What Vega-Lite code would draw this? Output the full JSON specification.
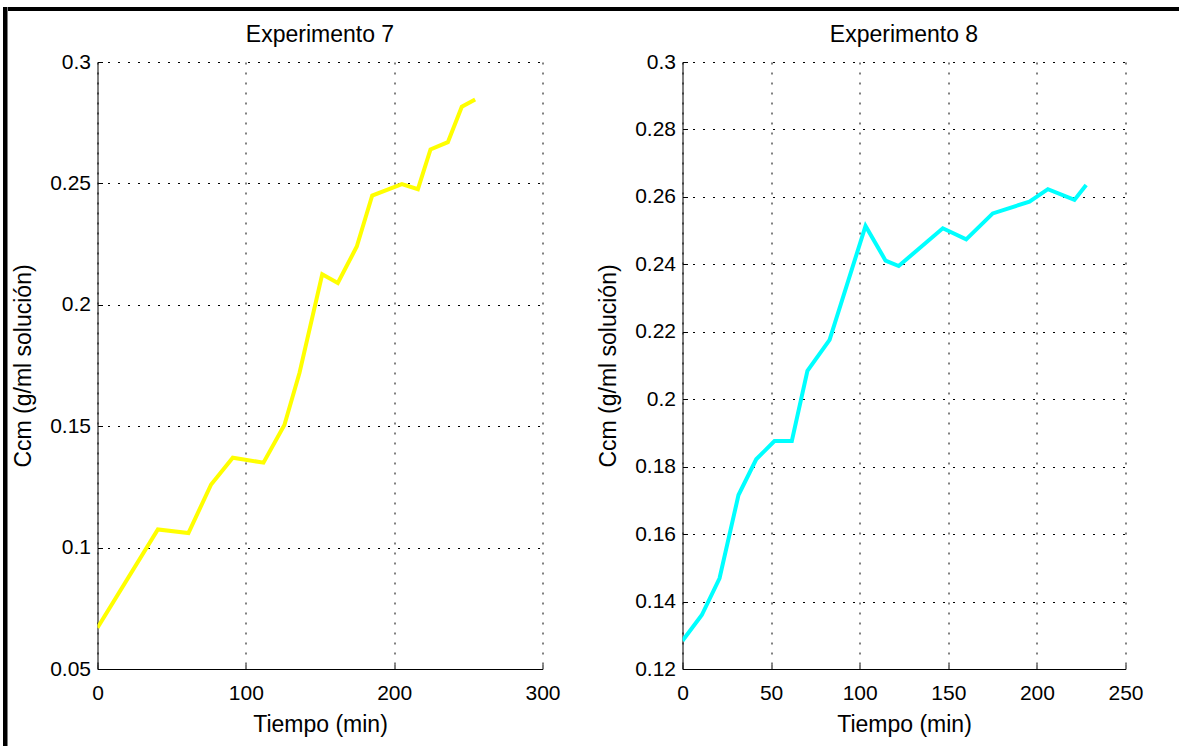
{
  "$schema": "https://vega.github.io/schema/vega-lite/v6.json",
  "background": "white",
  "padding": {"left": 3, "top": 7, "right": 0, "bottom": 0},
  "datasets": {
    "exp7": [
      {"tiempo": 0, "ccm": 0.067},
      {"tiempo": 40.7, "ccm": 0.1075},
      {"tiempo": 61.3, "ccm": 0.106},
      {"tiempo": 76.6, "ccm": 0.126},
      {"tiempo": 91.2, "ccm": 0.137},
      {"tiempo": 111.9, "ccm": 0.135},
      {"tiempo": 126, "ccm": 0.1505},
      {"tiempo": 136.2, "ccm": 0.172},
      {"tiempo": 151.5, "ccm": 0.2126},
      {"tiempo": 162, "ccm": 0.209},
      {"tiempo": 174.8, "ccm": 0.224},
      {"tiempo": 185.2, "ccm": 0.245},
      {"tiempo": 205.2, "ccm": 0.2497},
      {"tiempo": 216, "ccm": 0.2476},
      {"tiempo": 224.5, "ccm": 0.264},
      {"tiempo": 236.2, "ccm": 0.267},
      {"tiempo": 245.6, "ccm": 0.2816},
      {"tiempo": 254.6, "ccm": 0.2846}
    ],
    "exp8": [
      {"tiempo": 0, "ccm": 0.1284},
      {"tiempo": 10.9, "ccm": 0.136},
      {"tiempo": 20.9, "ccm": 0.1469},
      {"tiempo": 31.6, "ccm": 0.1716},
      {"tiempo": 41.6, "ccm": 0.1822},
      {"tiempo": 51.9, "ccm": 0.1876},
      {"tiempo": 61.7, "ccm": 0.1876},
      {"tiempo": 70.5, "ccm": 0.2084},
      {"tiempo": 83, "ccm": 0.2176},
      {"tiempo": 103.3, "ccm": 0.2514},
      {"tiempo": 114.6, "ccm": 0.2411},
      {"tiempo": 122, "ccm": 0.2395},
      {"tiempo": 146.9, "ccm": 0.2507},
      {"tiempo": 160.1, "ccm": 0.2474},
      {"tiempo": 175.1, "ccm": 0.2551},
      {"tiempo": 195.8, "ccm": 0.2586},
      {"tiempo": 206.2, "ccm": 0.2623},
      {"tiempo": 221.2, "ccm": 0.2591},
      {"tiempo": 227.8, "ccm": 0.2635}
    ]
  },
  "spacing": 0,
  "hconcat": [
    {
      "width": 4.5,
      "height": 760,
      "data": {"values": []},
      "mark": {"type": "point", "opacity": 0},
      "encoding": {},
      "view": {"fill": "#000", "stroke": null}
    },
    {
      "spacing": 13,
      "vconcat": [
        {
          "width": 1200,
          "height": 4,
          "data": {"values": []},
          "mark": {"type": "point", "opacity": 0},
          "encoding": {},
          "view": {"fill": "#000", "stroke": null}
        },
        {
          "spacing": 3.5,
          "hconcat": [
            {
              "width": 1,
              "height": 1,
              "data": {"values": []},
              "mark": {"type": "point", "opacity": 0},
              "encoding": {}
            },
            {
              "spacing": 37,
              "hconcat": [
                {
                  "title": "Experimento 7",
                  "width": 445,
                  "height": 607,
                  "data": {"name": "exp7"},
                  "mark": {"type": "line", "color": "#FFFF00", "strokeWidth": 4, "clip": true},
                  "encoding": {
                    "x": {
                      "field": "tiempo",
                      "type": "quantitative",
                      "title": "Tiempo (min)",
                      "scale": {"domain": [0, 300], "nice": false, "zero": false},
                      "axis": {"values": [0, 100, 200, 300], "format": "d"}
                    },
                    "y": {
                      "field": "ccm",
                      "type": "quantitative",
                      "title": "Ccm (g/ml solución)",
                      "scale": {"domain": [0.05, 0.3], "nice": false, "zero": false},
                      "axis": {"values": [0.05, 0.1, 0.15, 0.2, 0.25, 0.3], "format": ".2~f"}
                    }
                  }
                },
                {
                  "title": "Experimento 8",
                  "width": 443,
                  "height": 607,
                  "data": {"name": "exp8"},
                  "mark": {"type": "line", "color": "#00FFFF", "strokeWidth": 4, "clip": true},
                  "encoding": {
                    "x": {
                      "field": "tiempo",
                      "type": "quantitative",
                      "title": "Tiempo (min)",
                      "scale": {"domain": [0, 250], "nice": false, "zero": false},
                      "axis": {"values": [0, 50, 100, 150, 200, 250], "format": "d"}
                    },
                    "y": {
                      "field": "ccm",
                      "type": "quantitative",
                      "title": "Ccm (g/ml solución)",
                      "scale": {"domain": [0.12, 0.3], "nice": false, "zero": false},
                      "axis": {"values": [0.12, 0.14, 0.16, 0.18, 0.2, 0.22, 0.24, 0.26, 0.28, 0.3], "format": ".2~f"}
                    }
                  }
                }
              ]
            }
          ]
        }
      ]
    }
  ],
  "config": {
    "view": {"stroke": null},
    "font": "Liberation Sans",
    "title": {
      "font": "Liberation Sans",
      "fontSize": 23,
      "fontWeight": "normal",
      "color": "#000",
      "offset": 0
    },
    "axis": {
      "domainColor": "#000",
      "domainWidth": 1,
      "tickColor": "#000",
      "tickSize": -5,
      "tickWidth": 1,
      "grid": true,
      "gridColor": "#000",
      "gridDash": [2, 8],
      "gridWidth": 1,
      "gridOpacity": 1,
      "labelFont": "Liberation Sans",
      "labelFontSize": 21,
      "labelColor": "#000",
      "labelFlush": false,
      "labelOverlap": false,
      "titleFont": "Liberation Sans",
      "titleFontSize": 23,
      "titleFontWeight": "normal",
      "titleColor": "#000"
    },
    "axisX": {"labelPadding": 18, "titlePadding": 10},
    "axisY": {"labelPadding": 12, "titlePadding": 14}
  }
}
